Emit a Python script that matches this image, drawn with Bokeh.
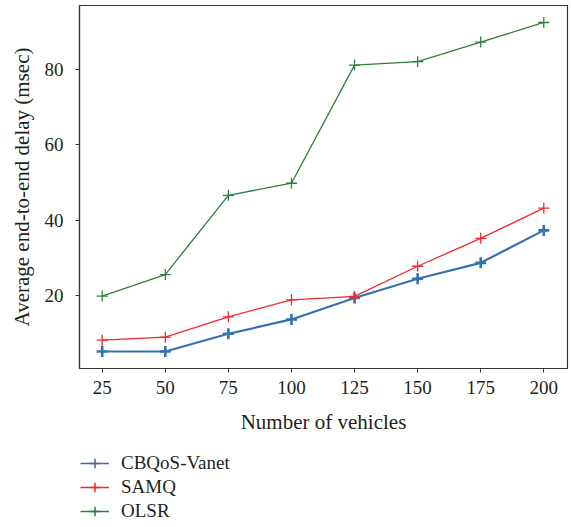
from bokeh.plotting import figure
from bokeh.models import Range1d, Legend, LegendItem, FixedTicker
from bokeh.layouts import column
from bokeh.embed import file_html
from bokeh.resources import INLINE

vehicles = [25, 50, 75, 100, 125, 150, 175, 200]
cbqos = [5.2, 5.2, 9.9, 13.7, 19.4, 24.5, 28.7, 37.3]
samq = [8.2, 9.0, 14.4, 18.9, 19.8, 27.8, 35.2, 43.2]
olsr = [19.9, 25.6, 46.6, 49.8, 81.1, 82.0, 87.2, 92.4]
x_ticks = [25, 50, 75, 100, 125, 150, 175, 200]
y_ticks = [20, 40, 60, 80]
names = ["CBQoS-Vanet", "SAMQ", "OLSR"]

FONT = "Liberation Serif"
TXT = "#231f20"

p = figure(width=571, height=443, output_backend="svg", toolbar_location=None,
           x_range=Range1d(16.0, 209.4), y_range=Range1d(0.7, 96.9),
           min_border_left=79, min_border_right=4, min_border_top=5,
           min_border_bottom=75)
p.grid.visible = False
p.outline_line_color = "#333333"
p.outline_line_width = 1.2

for ax in (p.xaxis[0], p.yaxis[0]):
    ax.axis_line_color = "#333333"
    ax.axis_line_width = 1.2
    ax.major_tick_line_color = "#333333"
    ax.major_tick_out = 4
    ax.major_tick_in = 0
    ax.minor_tick_out = 0
    ax.minor_tick_in = 0
    ax.major_label_text_font = FONT
    ax.major_label_text_font_size = "19px"
    ax.major_label_text_color = TXT
    ax.axis_label_text_font = FONT
    ax.axis_label_text_font_size = "21px"
    ax.axis_label_text_font_style = "normal"
    ax.axis_label_text_color = TXT

p.xaxis.ticker = FixedTicker(ticks=x_ticks)
p.yaxis.ticker = FixedTicker(ticks=y_ticks)
p.xaxis.axis_label = "Number of vehicles"
p.yaxis.axis_label = "Average end-to-end delay (msec)"
p.xaxis.major_label_standoff = 8
p.xaxis.axis_label_standoff = 13
p.yaxis.major_label_standoff = 12
p.yaxis.axis_label_standoff = 8

colors = ["#3571b1", "#ee2a2a", "#2e7d3e"]
widths = [2.2, 1.3, 1.3]
marker_widths = [2.6, 1.3, 1.3]
values = [cbqos, samq, olsr]

for ys, color, lw, mlw in zip(values, colors, widths, marker_widths):
    p.line(vehicles, ys, line_color=color, line_width=lw)
    p.scatter(vehicles, ys, marker="cross", size=11, line_color=color,
              line_width=mlw)

# legend panel as a second figure (frame aligned with the main plot's frame)
q = figure(width=571, height=84, output_backend="svg", toolbar_location=None,
           x_range=Range1d(0, 1), y_range=Range1d(0, 1),
           min_border_left=79, min_border_right=4, min_border_top=0,
           min_border_bottom=0)
q.axis.visible = False
q.grid.visible = False
q.outline_line_alpha = 0
items = []
legend_colors = ["#4a62b2", "#ee2a2a", "#2e7d3e"]
for name, color in zip(names, legend_colors):
    # points outside the visible range: only their legend glyphs are seen
    r1 = q.line([-5, -4], [-5, -5], line_color=color, line_width=1.5)
    r2 = q.scatter([-5], [-5], marker="cross", size=10, line_color=color,
                   line_width=1.5)
    items.append(LegendItem(label=name, renderers=[r1, r2]))

legend = Legend(items=items, location=(1, 4))
legend.border_line_alpha = 0
legend.background_fill_alpha = 0
legend.margin = 0
legend.padding = 0
legend.spacing = 0
legend.label_text_font = FONT
legend.label_text_font_size = "19px"
legend.label_text_color = TXT
legend.label_height = 24
legend.glyph_height = 24
legend.glyph_width = 29
legend.label_standoff = 12
q.add_layout(legend)

layout = column(p, q, spacing=0)
open("out.html", "w").write(file_html(layout, INLINE))
